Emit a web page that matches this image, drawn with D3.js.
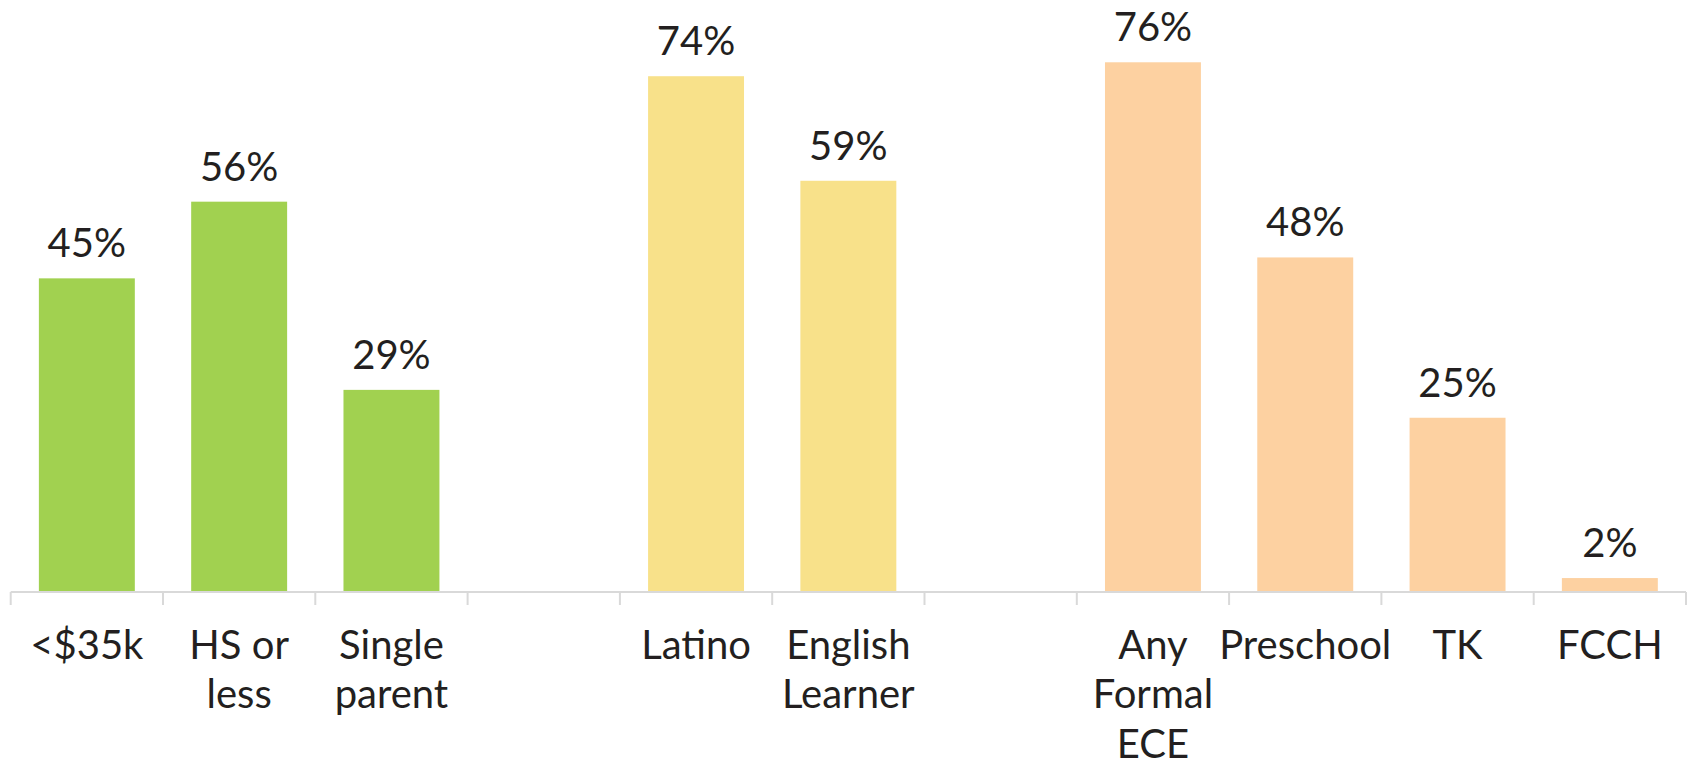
<!DOCTYPE html>
<html>
<head>
<meta charset="utf-8">
<script src="https://cdn.jsdelivr.net/npm/d3@7"></script>
<style>
  html, body { margin: 0; padding: 0; background: #ffffff; }
  svg { display: block; }
  text { font-family: "Lato", "Open Sans", sans-serif; fill: #231f20; }
</style>
</head>
<body>
<svg id="chart" width="1693" height="758"></svg>
<script>
// ---- data ----
const categories = ["<$35k", "HS or less", "Single parent", "", "Latino", "English Learner", "", "Any Formal ECE", "Preschool", "TK", "FCCH"];
const labelLines = [["<$35k"], ["HS or", "less"], ["Single", "parent"], [], ["Latino"], ["English", "Learner"], [], ["Any", "Formal", "ECE"], ["Preschool"], ["TK"], ["FCCH"]];
const values = [45, 56, 29, null, 74, 59, null, 76, 48, 25, 2];
const groups = ["econ", "econ", "econ", null, "lang", "lang", null, "ece", "ece", "ece", "ece"];
const groupColors = { econ: "#a1d150", lang: "#f8e18a", ece: "#fdd1a1" };

// ---- layout ----
const svg = d3.select("#chart");
const baseY = 592;
const pIn = 0.37;

const x = d3.scaleBand()
  .domain(d3.range(categories.length))
  .range([10.7, 1686])
  .paddingInner(pIn)
  .paddingOuter(pIn / 2);

const y = d3.scaleLinear()
  .domain([0, 100])
  .range([baseY, baseY - 697]);

const idx = d3.range(categories.length).filter(i => values[i] != null);

// bars
svg.append("g").selectAll("rect")
  .data(idx)
  .join("rect")
  .attr("x", i => x(i))
  .attr("width", x.bandwidth())
  .attr("y", i => y(values[i]))
  .attr("height", i => y(0) - y(values[i]))
  .attr("fill", i => groupColors[groups[i]]);

// value labels
svg.append("g").selectAll("text")
  .data(idx)
  .join("text")
  .attr("x", i => x(i) + x.bandwidth() / 2)
  .attr("y", i => y(values[i]) - 21)
  .attr("text-anchor", "middle")
  .style("font-size", "40px")
  .text(i => values[i] + "%");

// axis line and boundary ticks
const half = x.step() * pIn / 2;
const bounds = d3.range(categories.length).map(i => x(i) - half);
bounds.push(x(categories.length - 1) + x.bandwidth() + half);
const axis = svg.append("g").attr("stroke", "#d9d9d9").attr("stroke-width", 2);
axis.append("line")
  .attr("x1", bounds[0]).attr("x2", bounds[bounds.length - 1])
  .attr("y1", y(0)).attr("y2", y(0));
axis.selectAll("line.tick")
  .data(bounds)
  .join("line")
  .attr("class", "tick")
  .attr("x1", d => d).attr("x2", d => d)
  .attr("y1", y(0)).attr("y2", y(0) + 13);

// category labels
const lab = svg.append("g").selectAll("text")
  .data(d3.range(categories.length))
  .join("text")
  .attr("text-anchor", "middle")
  .style("font-size", "40px")
  .attr("x", i => x(i) + x.bandwidth() / 2)
  .attr("y", 659);
lab.selectAll("tspan")
  .data(i => labelLines[i].map(l => ({ l, cx: x(i) + x.bandwidth() / 2 })))
  .join("tspan")
  .attr("x", d => d.cx)
  .attr("dy", (d, k) => k === 0 ? 0 : 49.3)
  .text(d => d.l);
</script>
</body>
</html>
